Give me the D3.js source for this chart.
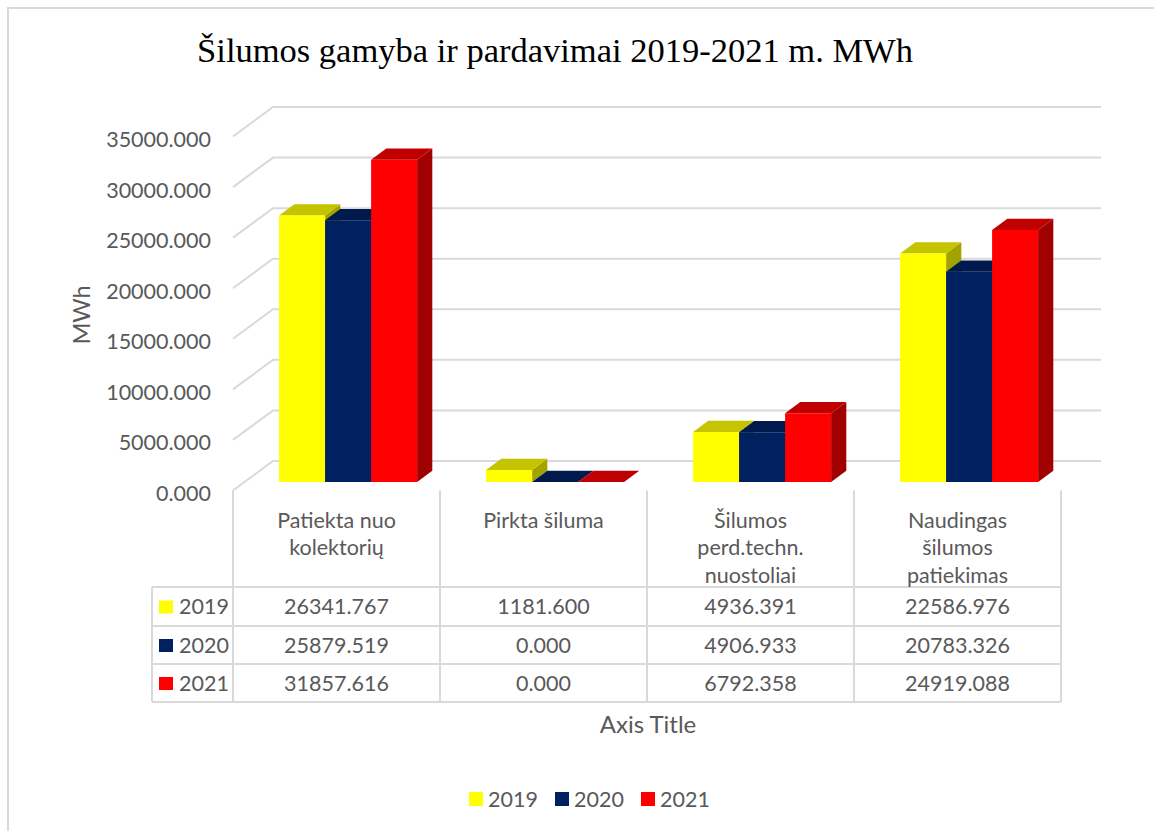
<!DOCTYPE html>
<html>
<head>
<meta charset="utf-8">
<script src="https://cdn.jsdelivr.net/npm/d3@7"></script>
<style>
  body { margin: 0; background: #fff; }
  text { font-family: Lato, "Open Sans", sans-serif; fill: #595959; }
</style>
</head>
<body>
<svg id="chart" width="1154" height="831"></svg>
<script>
// data
var categories = [["Patiekta nuo", "kolektorių"], ["Pirkta šiluma"], ["Šilumos", "perd.techn.", "nuostoliai"], ["Naudingas", "šilumos", "patiekimas"]];
var years = ["2019", "2020", "2021"];
var values2019 = [26341.767, 1181.600, 4936.391, 22586.976];
var values2020 = [25879.519, 0.000, 4906.933, 20783.326];
var values2021 = [31857.616, 0.000, 6792.358, 24919.088];
var yTicks = [0, 5000, 10000, 15000, 20000, 25000, 30000, 35000];

var series = [values2019, values2020, values2021];
var frontColor = ["#ffff00", "#002060", "#ff0000"];
var topColor = ["#c4c400", "#001a4d", "#c00000"];
var sideColor = ["#a3a300", "#00143c", "#a00000"];

var labelSize = "21.5px";
var titleSize = "24px";

var svg = d3.select("#chart");

// chart frame (only left + top edges are in view)
svg.append("path")
    .attr("d", "M8,831 L8,8 L1154,8")
    .attr("fill", "none")
    .attr("stroke", "#d9d9d9")
    .attr("stroke-width", 2);

// title
svg.append("text")
    .attr("x", 555)
    .attr("y", 62)
    .attr("text-anchor", "middle")
    .style("font-family", "'Liberation Serif', 'Times New Roman', serif")
    .style("font-size", "34.5px")
    .style("fill", "#000")
    .text("Šilumos gamyba ir pardavimai 2019-2021 m. MWh");

// 3D oblique projection
var DX = 40, DY = 29.5;
var zFront = 0.29, zBack = 0.67;
var left = 233, right = 1061;

var y = d3.scaleLinear().domain([0, 35000]).range([490.5, 136.5]);
var x = d3.scaleBand().domain(d3.range(categories.length)).range([left, right]);
var xInner = d3.scaleBand().domain(years).range([0, x.bandwidth()]).paddingOuter(0.75);

function proj(px, v, z) {
  return [px + z * DX, y(v) - z * DY];
}

// gridlines: side wall diagonal + back wall
var grid = svg.append("g");
yTicks.forEach(function(t) {
  var a = proj(left, t, 0), b = proj(left, t, 1), c = proj(right, t, 1);
  grid.append("path")
      .attr("d", "M" + a + "L" + b + "L" + c)
      .attr("fill", "none")
      .attr("stroke", "#d9d9d9")
      .attr("stroke-width", 2);
});

// y axis labels
svg.append("g").selectAll("text")
    .data(yTicks)
    .enter().append("text")
    .attr("x", 211)
    .attr("y", function(d) { return y(d) + 3; })
    .attr("dy", "0.35em")
    .attr("text-anchor", "end")
    .style("font-size", labelSize)
    .text(function(d) { return d3.format(".3f")(d); });

svg.append("text")
    .attr("transform", "translate(82,315) rotate(-90)")
    .attr("text-anchor", "middle")
    .attr("dy", "0.35em")
    .style("font-size", "23.5px")
    .text("MWh");

// bars
var bars = svg.append("g");
categories.forEach(function(cat, ci) {
  years.forEach(function(yr, si) {
    var v = series[si][ci];
    var x0 = x(ci) + xInner(yr), x1 = x0 + xInner.bandwidth();
    var side = [proj(x1, 0, zFront), proj(x1, v, zFront), proj(x1, v, zBack), proj(x1, 0, zBack)];
    var top = [proj(x0, v, zFront), proj(x1, v, zFront), proj(x1, v, zBack), proj(x0, v, zBack)];
    var front = [proj(x0, 0, zFront), proj(x0, v, zFront), proj(x1, v, zFront), proj(x1, 0, zFront)];
    bars.append("polygon").attr("points", side.join(" ")).attr("fill", sideColor[si]);
    bars.append("polygon").attr("points", top.join(" ")).attr("fill", topColor[si]);
    bars.append("polygon").attr("points", front.join(" ")).attr("fill", frontColor[si]);
  });
});

// data table
var table = svg.append("g");
var rowLines = [587, 626, 664, 702];
var keyLeft = 152;
var lineStyle = function(sel) { return sel.attr("stroke", "#d9d9d9").attr("stroke-width", 2); };

d3.range(categories.length + 1).forEach(function(i) {
  var xx = left + i * x.step();
  table.append("line").attr("x1", xx).attr("x2", xx).attr("y1", y(0)).attr("y2", 702).call(lineStyle);
});
rowLines.forEach(function(yy) {
  table.append("line").attr("x1", keyLeft).attr("x2", right).attr("y1", yy).attr("y2", yy).call(lineStyle);
});
table.append("line").attr("x1", keyLeft).attr("x2", keyLeft).attr("y1", 587).attr("y2", 702).call(lineStyle);

// category labels
categories.forEach(function(cat, ci) {
  cat.forEach(function(line, li) {
    table.append("text")
        .attr("x", x(ci) + x.bandwidth() / 2)
        .attr("y", 520 + li * 27.5)
        .attr("dy", "0.35em")
        .attr("text-anchor", "middle")
        .style("font-size", labelSize)
        .text(line);
  });
});

// value rows
years.forEach(function(yr, si) {
  var cy = (rowLines[si] + rowLines[si + 1]) / 2;
  table.append("rect").attr("x", 159).attr("y", cy - 6).attr("width", 14).attr("height", 13).attr("fill", frontColor[si]);
  table.append("text").attr("x", 179).attr("y", cy).attr("dy", "0.35em").style("font-size", labelSize).text(yr);
  series[si].forEach(function(v, ci) {
    table.append("text")
        .attr("x", x(ci) + x.bandwidth() / 2)
        .attr("y", cy)
        .attr("dy", "0.35em")
        .attr("text-anchor", "middle")
        .style("font-size", labelSize)
        .text(d3.format(".3f")(v));
  });
});

// axis title
svg.append("text")
    .attr("x", 648)
    .attr("y", 725)
    .attr("dy", "0.35em")
    .attr("text-anchor", "middle")
    .style("font-size", titleSize)
    .text("Axis Title");

// legend
var legend = svg.append("g");
var legendX = [469, 555, 641];
years.forEach(function(yr, si) {
  legend.append("rect").attr("x", legendX[si]).attr("y", 792).attr("width", 14).attr("height", 14).attr("fill", frontColor[si]);
  legend.append("text").attr("x", legendX[si] + 19).attr("y", 799).attr("dy", "0.35em").style("font-size", labelSize).text(yr);
});
</script>
</body>
</html>
